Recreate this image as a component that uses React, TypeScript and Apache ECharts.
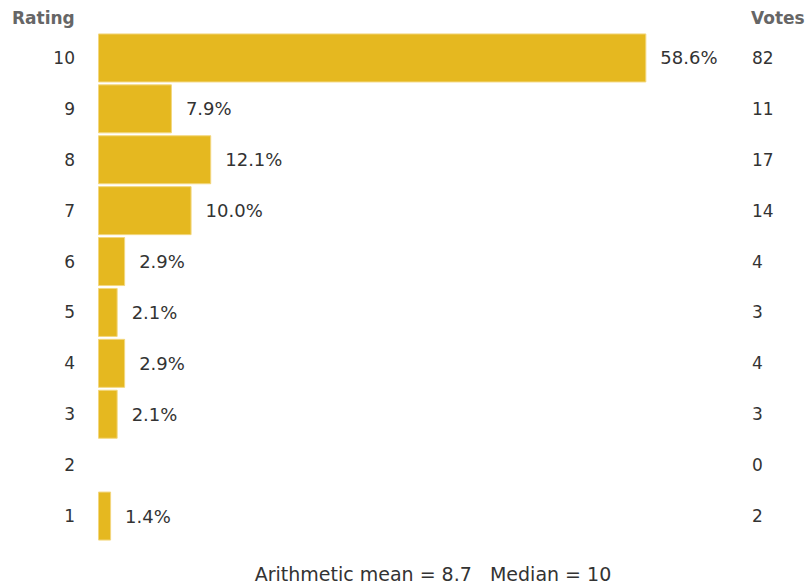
import React, { useEffect, useRef } from "react";
import * as echarts from "echarts";

const ratings = ["10", "9", "8", "7", "6", "5", "4", "3", "2", "1"];
const percents = [58.6, 7.9, 12.1, 10.0, 2.9, 2.1, 2.9, 2.1, 0, 1.4];
const votes = [82, 11, 17, 14, 4, 3, 4, 3, 0, 2];
const footer = "Arithmetic mean = 8.7\u00a0\u00a0\u00a0Median = 10";

const FONT = "DejaVu Sans, Verdana, sans-serif";

export default function App() {
  const ref = useRef<HTMLDivElement>(null);
  useEffect(() => {
    document.body.style.margin = "0";
    const chart = echarts.init(ref.current!, null, { renderer: "svg" });
    chart.setOption({
      animation: false,
      grid: { left: 98, top: 32.5, width: 655, height: 509 },
      xAxis: {
        type: "value",
        min: 0,
        max: 70,
        show: false,
      },
      yAxis: [
        {
          type: "category",
          data: ratings,
          inverse: true,
          axisLine: { show: false },
          axisTick: { show: false },
          axisLabel: { color: "#333", fontSize: 17, fontFamily: FONT, margin: 23 },
        },
        {
          type: "category",
          data: ratings,
          inverse: true,
          position: "right",
          axisLine: { show: false },
          axisTick: { show: false },
          axisLabel: {
            color: "#333",
            fontSize: 17,
            fontFamily: FONT,
            margin: -1,
            align: "left",
            formatter: (_v: string, i: number) => String(votes[i]),
          },
        },
      ],
      series: [
        {
          type: "bar",
          data: percents.map((v) =>
            v > 0 ? v : { value: v, itemStyle: { borderWidth: 0, opacity: 0 } }
          ),
          barWidth: 49,
          itemStyle: { color: "#E5B820", borderColor: "#F3D77E", borderWidth: 1 },
          label: {
            show: true,
            position: "right",
            distance: 14,
            color: "#333",
            fontSize: 18,
            fontFamily: FONT,
            formatter: (p: any) => (p.value > 0 ? p.value.toFixed(1) + "%" : ""),
          },
        },
      ],
      graphic: [
        {
          type: "text",
          left: 12,
          top: 9,
          style: { text: "Rating", fontSize: 17, fontWeight: "bold", fill: "#666", fontFamily: FONT },
        },
        {
          type: "text",
          left: 751,
          top: 9,
          style: { text: "Votes", fontSize: 17, fontWeight: "bold", fill: "#666", fontFamily: FONT },
        },
        {
          type: "text",
          x: 433,
          y: 574,
          style: {
            text: footer,
            fontSize: 19,
            fill: "#333",
            fontFamily: FONT,
            align: "center",
            verticalAlign: "middle",
          },
        },
      ],
    });
    return () => chart.dispose();
  }, []);
  return <div ref={ref} style={{ width: 810, height: 585 }} />;
}
